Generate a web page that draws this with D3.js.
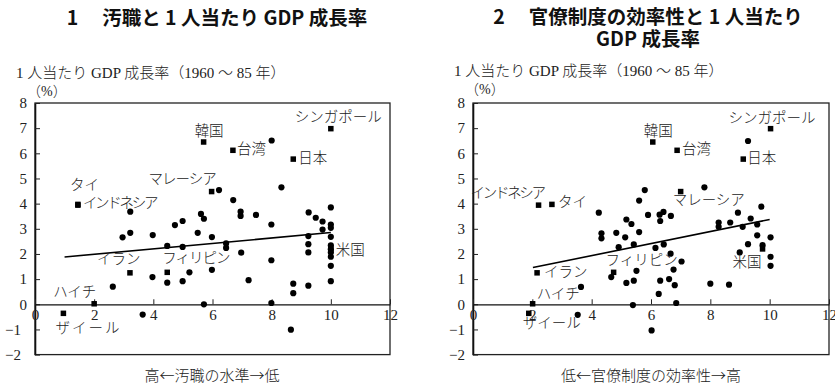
<!DOCTYPE html>
<html><head><meta charset="utf-8">
<script src="https://cdn.jsdelivr.net/npm/d3@7"></script>
<style>
body{margin:0;background:#fff}
svg{display:block}
.tick text{font-family:"Liberation Serif",serif;font-size:15px;fill:#222}
.lbl{font-family:"Liberation Serif","Noto Sans CJK JP",serif;font-weight:300;font-size:14.5px;fill:#222}
.xt{font-family:"Noto Sans CJK JP",sans-serif;font-weight:300;font-size:15px;fill:#222}
.ttl{font-family:"Noto Sans CJK JP",sans-serif;font-weight:700;font-size:19.5px;fill:#111}
</style></head><body>
<svg id="chart" width="835" height="389"></svg>
<script>
// Named countries (squares), shared by both panels
const countryNames = ["シンガポール","韓国","台湾","日本","マレーシア","タイ","インドネシア","イラン","フィリピン","米国","ハイチ","ザイール"];
const countryGrowth = [6.98, 6.45, 6.12, 5.77, 4.48, 3.97, 3.94, 1.25, 1.27, 2.2, 0.02, -0.36];
const corruptionScore = [10.0, 5.70, 6.69, 8.73, 5.97, 1.45, 1.45, 3.21, 4.47, 10.0, 2.0, 0.96];
const bureaucracyScore = [10.03, 6.06, 6.88, 9.11, 7.0, 2.66, 2.21, 2.16, 4.74, 9.76, 2.01, 1.88];

// Other countries (dots), panel 1: corruption index vs growth
const otherCorruptX = [8.00,6.22,8.33,6.70,3.22,6.95,6.95,7.47,5.61,5.71,4.99,4.73,7.99,2.96,3.22,3.98,5.50,5.98,4.47,4.99,6.46,6.46,6.97,7.99,5.98,5.22,3.97,4.47,4.99,7.22,2.63,8.73,8.73,9.24,5.71,7.99,3.64,8.65,9.25,9.49,9.72,9.72,9.24,9.24,9.24,10,10,10,10,10,10,10,10,10,10];
const otherCorruptY = [6.51,4.54,4.65,4.14,3.68,3.68,3.51,3.55,3.59,3.40,3.31,3.15,3.17,2.66,2.84,2.75,2.84,2.67,2.32,2.28,2.42,2.24,2.05,1.75,1.37,1.27,1.08,0.86,0.92,0.96,0.70,0.82,0.44,0.74,0.00,0.05,-0.41,-1.01,3.65,3.44,3.29,2.97,2.71,2.39,2.06,3.85,3.17,3.04,2.68,2.34,2.19,2.06,1.89,1.53,0.92];

// Other countries (dots), panel 2: bureaucratic efficiency vs growth
const otherBureauX = [9.27,5.79,7.80,5.60,9.72,4.24,8.93,6.42,6.29,5.90,6.67,5.17,5.34,6.31,9.36,8.28,8.28,8.67,9.09,9.58,4.33,4.33,4.83,5.60,5.13,9.58,10.03,4.91,5.42,6.15,6.43,9.27,9.76,8.99,6.66,7.03,6.76,5.51,4.66,5.42,5.17,6.31,6.61,6.80,6.26,6.85,5.39,6.02,8.00,8.63,3.64,3.53,10.03,10.03];
const otherBureauY = [6.49,4.54,4.65,4.12,3.88,3.64,3.64,3.67,3.56,3.55,3.51,3.37,3.19,3.31,3.41,3.25,3.08,3.25,3.08,3.17,2.82,2.62,2.84,2.87,2.66,2.74,2.66,2.27,2.38,2.24,2.38,2.39,2.35,2.06,2.01,1.70,1.38,1.33,1.08,0.94,0.85,0.94,1.00,0.76,0.41,0.05,-0.03,-1.04,0.82,0.78,0.69,-0.42,1.89,1.53];

// Fitted regression lines (end points)
const fitCorruptX = [1.0, 10.0];
const fitCorruptY = [1.88, 2.85];
const fitBureauX = [2.02, 10.0];
const fitBureauY = [1.46, 3.37];

const xTicks = [0, 2, 4, 6, 8, 10, 12];
const yTicks = [-2, -1, 0, 1, 2, 3, 4, 5, 6, 7, 8];

const titleCorrupt = ["1\u3000 汚職と 1 人当たり GDP 成長率"];
const titleBureau = ["2\u3000 官僚制度の効率性と 1 人当たり", "GDP 成長率"];
const yAxisTitle = "1 人当たり GDP 成長率（1960 ～ 85 年）";
const yUnit = "（%）";
const xTitleCorrupt = "高←汚職の水準→低";
const xTitleBureau = "低←官僚制度の効率性→高";

// Label placement relative to each square: [dx, dy, letter-spacing]
const labelOffsetCorrupt = [[-36,-7,0],[-9,-6,0],[4,4,0],[5,4,0],[-63,-8,-1],[-8,-14,0],[5,3,-2.3],[-33,-9,0],[-5,-9,-1],[5,6,0],[-41,-7,0],[-8,20,2]];
const labelOffsetBureau = [[-42,-6,0],[-9,-6,0],[5,4,0],[4,4,0],[-8,13,0],[6,3,0],[-68,-7,-2.3],[7,4,0],[-8,-7,0],[-30,18,0],[4,-5,0],[-6,15,0]];

const svg = d3.select("#chart");
const fmt = d3.format("d");

function drawPanel(cfg) {
  const g = svg.append("g");
  const x = d3.scaleLinear().domain([0, 12]).range([cfg.left, cfg.right]);
  const y = d3.scaleLinear().domain([-2, 8]).range([354.6, 103]);

  // titles
  cfg.title.forEach((t, i) => {
    g.append("text").attr("class", "ttl").attr("x", cfg.titleX).attr("y", cfg.titleY + i * 22.5)
      .attr("text-anchor", "middle").text(t);
  });
  g.append("text").attr("class", "lbl").attr("x", cfg.left - 19).attr("y", cfg.yTitleY)
    .style("font-size", "15px").text(yAxisTitle);
  g.append("text").attr("class", "lbl").attr("x", cfg.left - 8).attr("y", cfg.yTitleY + 18)
    .style("font-size", "14px").text(yUnit);

  // frame
  g.append("rect").attr("x", cfg.left).attr("y", y(8))
    .attr("width", cfg.right - cfg.left).attr("height", y(-2) - y(8))
    .attr("fill", "none").attr("stroke", "#222").attr("stroke-width", 1.3);

  // y axis with inward ticks
  const ya = g.append("g").attr("transform", `translate(${cfg.left},0)`)
    .call(d3.axisLeft(y).tickValues(yTicks).tickSize(-5).tickSizeOuter(0).tickPadding(8).tickFormat(fmt));
  ya.select(".domain").attr("stroke", "#111").attr("stroke-width", 1.6);
  ya.selectAll(".tick line").attr("stroke", "#222");
  if (cfg.negShift) ya.selectAll(".tick text").filter(d => d < 0).attr("dx", cfg.negShift);

  // x axis along the zero line
  const xa = g.append("g").attr("transform", `translate(0,${y(0)})`)
    .call(d3.axisBottom(x).tickValues(xTicks).tickSize(-5).tickSizeOuter(0).tickPadding(5).tickFormat(fmt));
  xa.select(".domain").attr("stroke", "#111").attr("stroke-width", 1.2);
  xa.selectAll(".tick line").attr("stroke", "#222");

  // regression line
  g.append("line")
    .attr("x1", x(cfg.fitX[0])).attr("y1", y(cfg.fitY[0]))
    .attr("x2", x(cfg.fitX[1])).attr("y2", y(cfg.fitY[1]))
    .attr("stroke", "#000").attr("stroke-width", 1.6);

  // other countries
  g.selectAll("circle.o").data(cfg.dotX.map((v, i) => [v, cfg.dotY[i]])).join("circle")
    .attr("class", "o").attr("cx", d => x(d[0])).attr("cy", d => y(d[1])).attr("r", 3.1).attr("fill", "#000");

  // named countries
  const s = 5.5;
  const named = countryNames.map((n, i) => ({ n, xv: cfg.scoreX[i], yv: countryGrowth[i], off: cfg.offsets[i] }));
  g.selectAll("rect.c").data(named).join("rect")
    .attr("class", "c").attr("x", d => x(d.xv) - s / 2).attr("y", d => y(d.yv) - s / 2)
    .attr("width", s).attr("height", s).attr("fill", "#000");
  g.selectAll("text.c").data(named).join("text")
    .attr("class", "c lbl").attr("x", d => x(d.xv) + d.off[0]).attr("y", d => y(d.yv) + d.off[1])
    .style("letter-spacing", d => d.off[2] + "px")
    .text(d => d.n);

  // x axis title
  g.append("text").attr("class", "xt").attr("x", cfg.xTitleX).attr("y", 381)
    .attr("text-anchor", "middle").text(cfg.xTitle);
}

drawPanel({ left: 35, right: 390, title: titleCorrupt, titleX: 217, titleY: 25, yTitleY: 78, negShift: -6,
  scoreX: corruptionScore, dotX: otherCorruptX, dotY: otherCorruptY,
  fitX: fitCorruptX, fitY: fitCorruptY, offsets: labelOffsetCorrupt,
  xTitle: xTitleCorrupt, xTitleX: 212 });
drawPanel({ left: 473, right: 829, title: titleBureau, titleX: 648, titleY: 23.5, yTitleY: 76, negShift: 0,
  scoreX: bureaucracyScore, dotX: otherBureauX, dotY: otherBureauY,
  fitX: fitBureauX, fitY: fitBureauY, offsets: labelOffsetBureau,
  xTitle: xTitleBureau, xTitleX: 651 });
</script></body></html>
